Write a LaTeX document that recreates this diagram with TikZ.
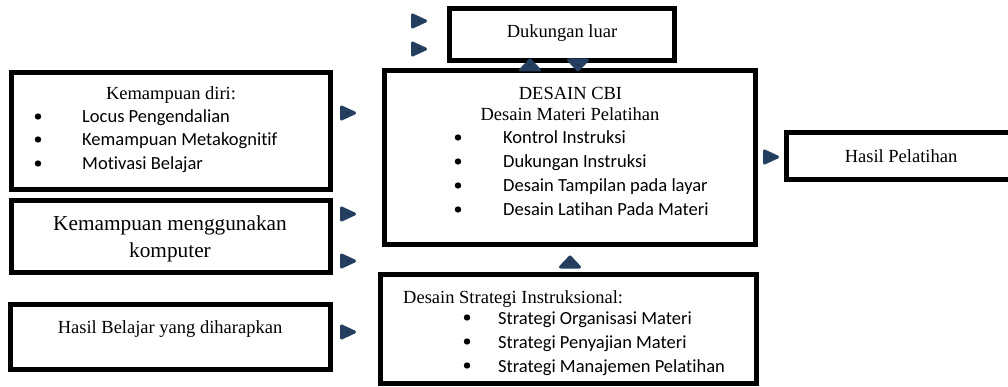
\documentclass[tikz,border=0pt]{standalone}
\usepackage{fontspec}
\setmainfont{Liberation Serif}
\newfontfamily\calib[Ligatures=NoCommon]{Carlito}
\usetikzlibrary{shapes}
\definecolor{headblue}{RGB}{36,63,96}

\begin{document}
\begin{tikzpicture}[x=1pt, y=-1pt,
		box/.style={draw, line width=5pt, inner sep=0pt},
		hdr/.style={inner sep=0pt, anchor=base, font=\fontsize{18.5}{22}\selectfont},
		bighdr/.style={hdr, font=\fontsize{21.3}{26}\selectfont},
		itm/.style={inner sep=0pt, anchor=base west, font=\calib\fontsize{18.5}{22}\selectfont},
		rhead/.pic={\filldraw[headblue, line width=3pt, line join=round] (-6.5,-6) -- (6.5,0) -- (-6.5,6) -- cycle;
			\fill[black] (0,0) circle (0.7);},
		uhead/.pic={\filldraw[headblue, line width=3pt, line join=round] (-9.5,5) -- (0,-5) -- (9.5,5) -- cycle;
			\fill[black] (0,0) circle (0.7);}]
	\useasboundingbox (0,0) rectangle (1008,387);
	\fill[white] (0,0) rectangle (1008,387);

	\begin{scope}
		% left column
		\node[box, minimum width=319pt, minimum height=117pt] (diri) at (171,131) {};
		\node[hdr] (diriT) at (171,100) {Kemampuan diri:};
		\fill (38,116.5) circle (3.2);
		\node[itm] (diri1) at (82,123) {Locus Pengendalian};
		\fill (38,139.5) circle (3.2);
		\node[itm] (diri2) at (82,146) {Kemampuan Metakognitif};
		\fill (38,163.5) circle (3.2);
		\node[itm] (diri3) at (82,170) {Motivasi Belajar};

		\node[box, minimum width=319pt, minimum height=72pt] (komp) at (171,236.5) {};
		\node[bighdr] (kompT) at (170,230) {Kemampuan menggunakan};
		\node[bighdr] (kompB) at (170,257) {komputer};

		\node[box, minimum width=320pt, minimum height=65pt] (hbel) at (170.5,337) {};
		\node[hdr] (hbelT) at (170,333) {Hasil Belajar yang diharapkan};
	\end{scope}

	\begin{scope}
		% middle column
		\node[box, minimum width=225pt, minimum height=52pt] (duk) at (562,34.5) {};
		\node[hdr] (dukT) at (562,38) {Dukungan luar};

		\node[box, minimum width=371pt, minimum height=174pt] (cbi) at (570,157.5) {};
		\node[hdr] (cbiT) at (570.5,100) {DESAIN CBI};
		\node[hdr] (cbiS) at (570,121) {Desain Materi Pelatihan};
		\fill (458,137.5) circle (3.2);
		\node[itm] (cbi1) at (503,144) {Kontrol Instruksi};
		\fill (458,161.5) circle (3.2);
		\node[itm] (cbi2) at (503,168) {Dukungan Instruksi};
		\fill (458,185.5) circle (3.2);
		\node[itm] (cbi3) at (503,192) {Desain Tampilan pada layar};
		\fill (458,209.5) circle (3.2);
		\node[itm] (cbi4) at (503,216) {Desain Latihan Pada Materi};

		\node[box, minimum width=376pt, minimum height=109pt] (strat) at (568.5,329) {};
		\node[hdr, anchor=base west] (stratT) at (403,303) {Desain Strategi Instruksional:};
		\fill (467,317.5) circle (3.2);
		\node[itm] (strat1) at (498,324) {Strategi Organisasi Materi};
		\fill (467,341.5) circle (3.2);
		\node[itm] (strat2) at (498,348) {Strategi Penyajian Materi};
		\fill (467,365.5) circle (3.2);
		\node[itm] (strat3) at (498,372) {Strategi Manajemen Pelatihan};
	\end{scope}

	\begin{scope}
		% right column
		\node[box, minimum width=228pt, minimum height=47pt] (hpel) at (900,156) {};
		\node[hdr] (hpelT) at (901,163) {Hasil Pelatihan};
	\end{scope}

	% arrow heads
	\pic at (419,21) {rhead};
	\pic at (419,49) {rhead};
	\pic at (348,113) {rhead};
	\pic at (348,214) {rhead};
	\pic at (348,261) {rhead};
	\pic at (348,332) {rhead};
	\pic at (771,157) {rhead};
	\pic at (530,65) {uhead};
	\pic[rotate=180] at (578,65) {uhead};
	\pic at (570,262) {uhead};
\end{tikzpicture}
\end{document}
